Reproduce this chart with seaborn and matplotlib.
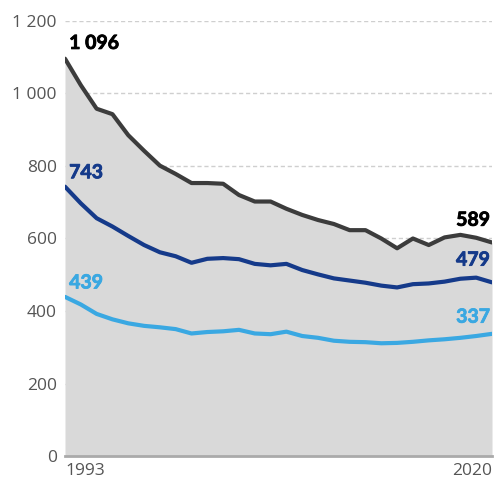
import numpy as np
import pandas as pd
import matplotlib
matplotlib.use("Agg")
import matplotlib.pyplot as plt
import matplotlib.patheffects as pe
import seaborn as sns

# data
years = list(range(1993, 2021))
total = [1096, 1023, 958, 943, 885, 842, 801, 778, 753, 753, 751, 720, 702, 702,
         682, 665, 651, 640, 623, 623, 600, 573, 600, 582, 603, 610, 602, 589]
middle = [743, 697, 656, 633, 607, 582, 562, 551, 533, 544, 546, 543, 530, 526,
          530, 513, 501, 490, 484, 478, 470, 465, 474, 476, 481, 489, 492, 479]
lower = [439, 418, 392, 377, 366, 359, 355, 350, 338, 342, 344, 348, 338, 336,
         343, 331, 326, 318, 315, 314, 311, 312, 315, 319, 322, 326, 331, 337]
yticks = [0, 200, 400, 600, 800, 1000, 1200]
ytick_labels = ["0", "200", "400", "600", "800", "1 000", "1 200"]

df = pd.DataFrame({"year": years, "total": total, "middle": middle, "lower": lower})

sns.set_style("white")
plt.rcParams["font.family"] = ["Open Sans", "DejaVu Sans"]

c_total = "#3c3c3c"
c_mid = "#153a8a"
c_low = "#3aa8e2"

fig = plt.figure(figsize=(4.94, 4.83), dpi=100)
ax = fig.add_axes([65 / 494, 27 / 483, 427 / 494, 435 / 483])

for y in yticks[1:]:
    ax.axhline(y, color="#cfcfcf", lw=1, ls=(0, (3, 2)), zorder=0)

ax.fill_between(df["year"], df["total"], color="#d9d9d9", zorder=1, lw=0)
sns.lineplot(data=df, x="year", y="total", color=c_total, lw=3, ax=ax, zorder=3)
sns.lineplot(data=df, x="year", y="middle", color=c_mid, lw=3, ax=ax, zorder=3)
sns.lineplot(data=df, x="year", y="lower", color=c_low, lw=3, ax=ax, zorder=3)

ax.set_xlim(years[0], years[-1])
ax.set_ylim(0, 1200)
ax.set_yticks(yticks)
ax.set_yticklabels(ytick_labels)
ax.set_xticks([years[0], years[-1]])
ax.set_xticklabels([str(years[0]), str(years[-1])])
for lab, ha in zip(ax.get_xticklabels(), ["left", "right"]):
    lab.set_ha(ha)
ax.tick_params(axis="both", length=0, labelsize=12.5, labelcolor="#555555")
ax.tick_params(axis="y", pad=6)
ax.tick_params(axis="x", pad=5)
ax.set_xlabel("")
ax.set_ylabel("")
for side in ["top", "right", "left"]:
    ax.spines[side].set_visible(False)
ax.spines["bottom"].set_color("#aaaaaa")
ax.spines["bottom"].set_linewidth(2)
ax.spines["bottom"].set_zorder(4)

label_font = dict(fontsize=14, fontweight="bold", family=["Lato", "DejaVu Sans"])

def fmt(v):
    return f"{v:,}".replace(",", " ")

ends = [(total, "#000000", 11, 16), (middle, c_mid, 10, 16), (lower, c_low, 10, 12)]
for series, tc, dy_left, dy_right in ends:
    fx = [pe.withStroke(linewidth=0.6, foreground=tc)]
    ax.annotate(fmt(series[0]), (years[0], series[0]), xytext=(3, dy_left),
                textcoords="offset points", ha="left", va="center", color=tc,
                annotation_clip=False, zorder=5, path_effects=fx, **label_font)
    ax.annotate(fmt(series[-1]), (years[-1], series[-1]), xytext=(-1.5, dy_right),
                textcoords="offset points", ha="right", va="center", color=tc,
                annotation_clip=False, zorder=5, path_effects=fx, **label_font)

fig.savefig("out.png", dpi=100)
